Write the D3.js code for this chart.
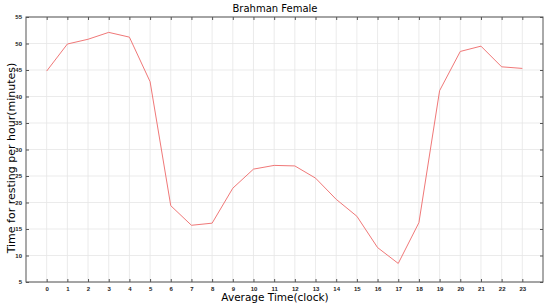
<!DOCTYPE html>
<html lang="en">
<head>
  <meta charset="UTF-8">
  <title>Brahman Female</title>
  <script src="https://d3js.org/d3.v7.min.js"></script>
  <style>
    html, body { margin: 0; padding: 0; background: #fff; }
    svg { display: block; font-family: "DejaVu Sans", sans-serif; }
    .tick text { font-size: 6px; font-weight: bold; fill: #222; }
    .grid line { stroke: #e6e6e6; stroke-width: 0.8px; }
    .frame { fill: none; stroke: #555; stroke-width: 1px; }
  </style>
</head>
<body>
  <svg width="550" height="308"></svg>
  <script>
    // hours of the day
    const hours = d3.range(0, 24);
    // resting minutes per hour
    const resting = [44.8, 49.9, 50.8, 52.1, 51.2, 42.8, 19.4, 15.7, 16.1, 22.7, 26.3, 27.0,
                     26.9, 24.6, 20.6, 17.4, 11.5, 8.5, 16.2, 41.1, 48.5, 49.5, 45.6, 45.3];
    const yTicks = [5, 10, 15, 20, 25, 30, 35, 40, 45, 50, 55];

    const margin = { top: 17, right: 7, bottom: 26, left: 26 };
    const width = 550 - margin.left - margin.right;
    const height = 308 - margin.top - margin.bottom;

    const svg = d3.select("svg");
    const g = svg.append("g")
      .attr("transform", `translate(${margin.left},${margin.top})`);

    const x = d3.scaleLinear().domain([-1, 24]).range([0, width]);
    const y = d3.scaleLinear().domain([5, 55]).range([height, 0]);

    // grid
    g.append("g").attr("class", "grid")
      .selectAll("line").data(hours).join("line")
      .attr("x1", d => x(d)).attr("x2", d => x(d))
      .attr("y1", 0).attr("y2", height);
    g.append("g").attr("class", "grid")
      .selectAll("line").data(yTicks).join("line")
      .attr("x1", 0).attr("x2", width)
      .attr("y1", d => y(d)).attr("y2", d => y(d));

    // axes, ticks inward
    g.append("g").attr("transform", `translate(0,${height})`)
      .call(d3.axisBottom(x).tickValues(hours).tickFormat(d3.format("d")).tickSizeInner(-3).tickSizeOuter(0).tickPadding(5));
    g.append("g")
      .call(d3.axisLeft(y).tickValues(yTicks).tickSizeInner(-3).tickSizeOuter(0).tickPadding(4));
    g.append("g")
      .call(d3.axisTop(x).tickValues(hours).tickFormat("").tickSizeInner(-3).tickSizeOuter(0));
    g.append("g").attr("transform", `translate(${width},0)`)
      .call(d3.axisRight(y).tickValues(yTicks).tickFormat("").tickSizeInner(-3).tickSizeOuter(0));
    g.selectAll(".domain").attr("stroke", "none");
    g.selectAll(".tick line").attr("stroke", "#555");

    g.append("rect").attr("class", "frame")
      .attr("x", 0).attr("y", 0).attr("width", width).attr("height", height);

    // line
    const line = d3.line().x((d, i) => x(hours[i])).y(d => y(d));
    g.append("path").datum(resting)
      .attr("fill", "none")
      .attr("stroke", "#f07878")
      .attr("stroke-width", 1)
      .attr("d", line);

    // titles
    svg.append("text")
      .attr("x", 275).attr("y", 12)
      .attr("text-anchor", "middle")
      .style("font-size", "10px")
      .text("Brahman Female");

    svg.append("text")
      .attr("x", 275).attr("y", 301)
      .attr("text-anchor", "middle")
      .style("font-size", "10.5px")
      .text("Average Time(clock)");

    svg.append("text")
      .attr("transform", `translate(15,158) rotate(-90)`)
      .attr("text-anchor", "middle")
      .style("font-size", "11px")
      .text("Time for resting per hour(minutes)");
  </script>
</body>
</html>
